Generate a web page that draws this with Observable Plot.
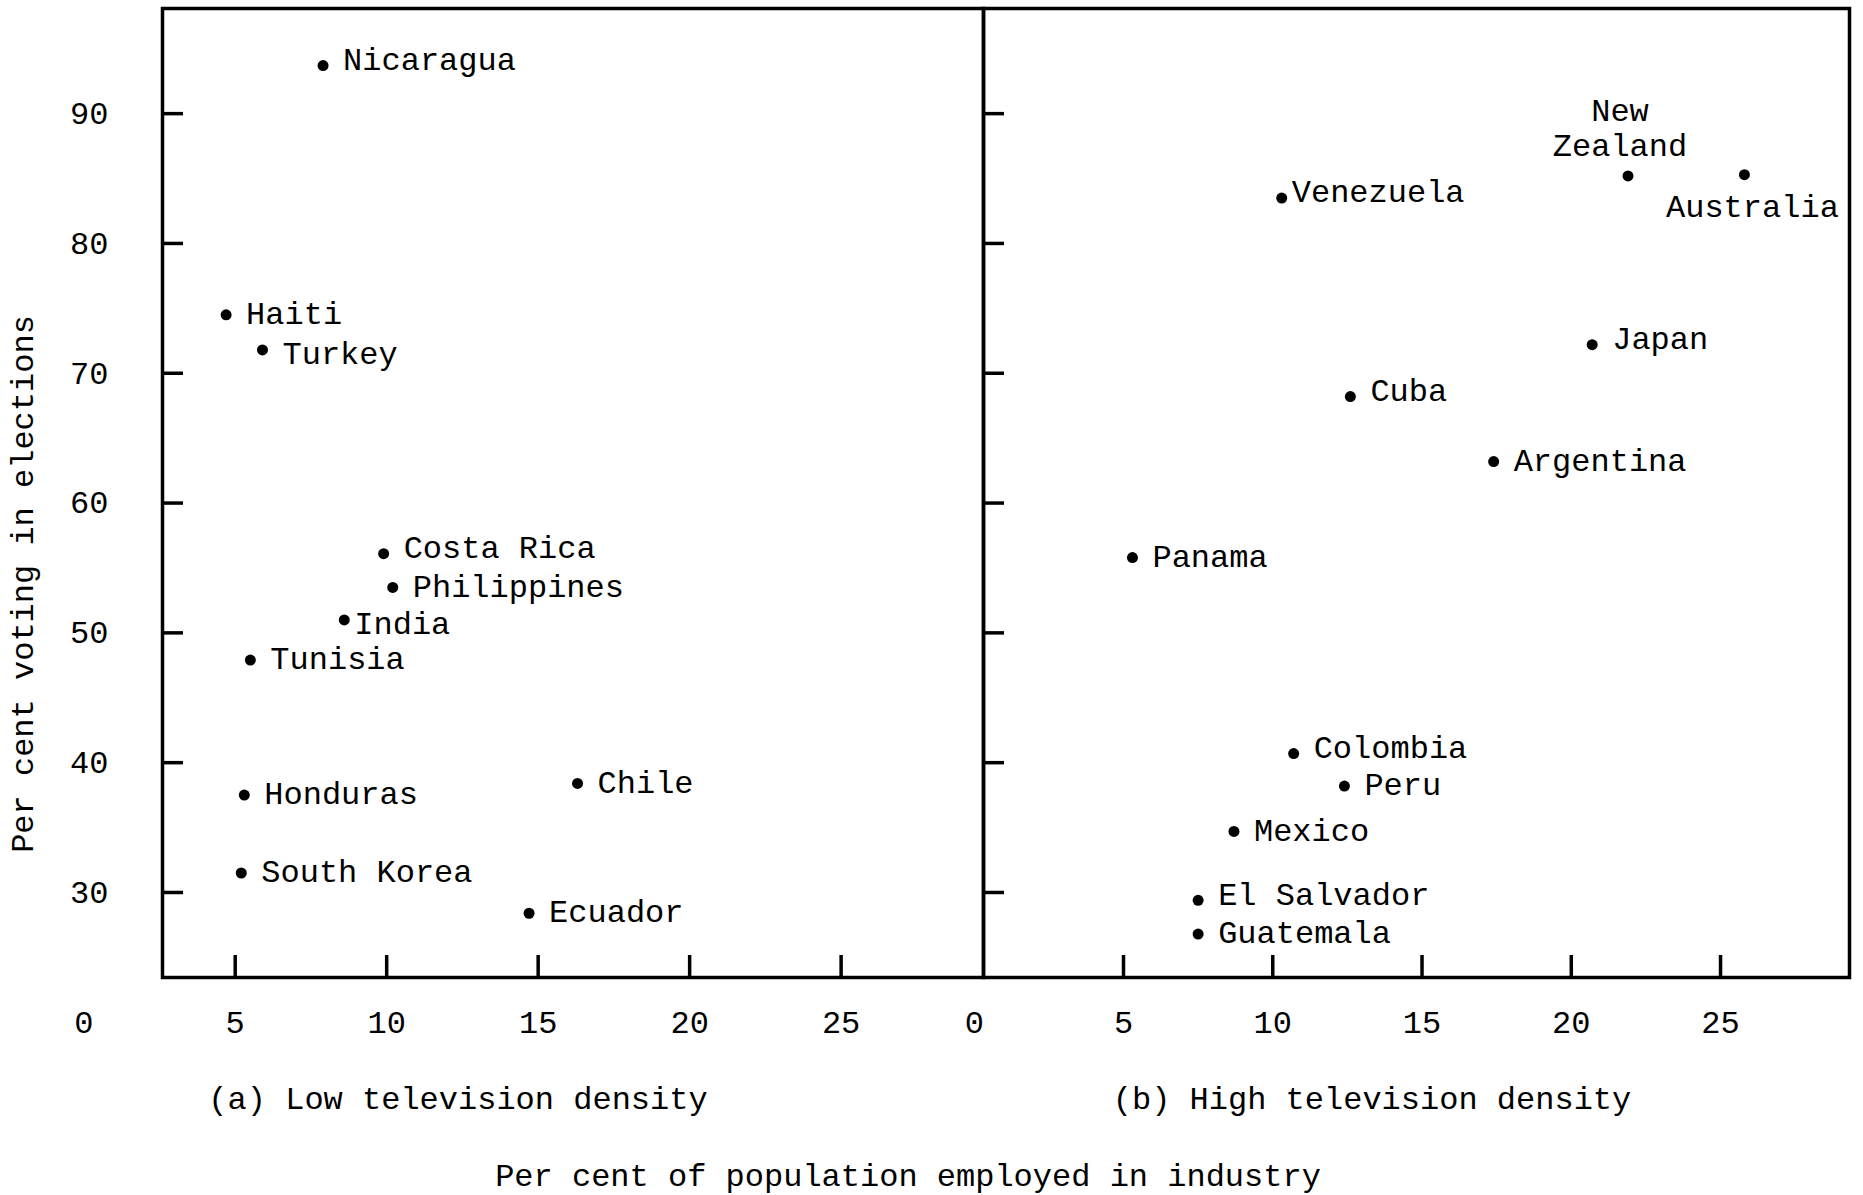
<!DOCTYPE html>
<html>
<head>
<meta charset="utf-8">
<script src="https://cdn.jsdelivr.net/npm/d3@7"></script>
<script src="https://cdn.jsdelivr.net/npm/@observablehq/plot@0.6"></script>
<style>
  html, body { margin: 0; padding: 0; background: #fff; }
  #fig { position: relative; width: 1863px; height: 1195px; background: #fff; font-family: "Liberation Mono", monospace; color: #000; overflow: hidden; }
  #left, #right { position: absolute; top: 0; }
  #left { left: 0; }
  #right { left: 983px; }
  .txt { position: absolute; white-space: nowrap; font-size: 32px; transform: translate(-50%, -50%); }
  .ytitle { transform: translate(-50%, -50%) rotate(-90deg); }
</style>
</head>
<body>
<div id="fig">
  <div id="left"></div>
  <div id="right"></div>
  <div class="txt ytitle" style="left:24px; top:584px;">Per cent voting in elections</div>
  <div class="txt" style="left:458px; top:1100px;">(a) Low television density</div>
  <div class="txt" style="left:1372px; top:1100px;">(b) High television density</div>
  <div class="txt" style="left:908px; top:1177px;">Per cent of population employed in industry</div>
</div>
<script>
// ---- data ----
const leftCountries = ["Nicaragua", "Haiti", "Turkey", "Costa Rica", "Philippines", "India", "Tunisia", "Honduras", "South Korea", "Chile", "Ecuador"];
const leftIndustry  = [7.9, 4.7, 5.9, 9.9, 10.2, 8.6, 5.5, 5.3, 5.2, 16.3, 14.7];
const leftVoting    = [93.7, 74.5, 71.8, 56.1, 53.5, 51.0, 47.9, 37.5, 31.5, 38.4, 28.4];

const rightCountries = ["New Zealand", "Australia", "Venezuela", "Japan", "Cuba", "Argentina", "Panama", "Colombia", "Peru", "Mexico", "El Salvador", "Guatemala"];
const rightIndustry  = [21.9, 25.8, 10.3, 20.7, 12.6, 17.4, 5.3, 10.7, 12.4, 8.7, 7.5, 7.5];
const rightVoting    = [85.2, 85.3, 83.5, 72.2, 68.2, 63.2, 55.8, 40.7, 38.2, 34.7, 29.4, 26.8];

const xTickLabels = [0, 5, 10, 15, 20, 25];
const xTickMarks  = [5, 10, 15, 20, 25];
const yTicks      = [30, 40, 50, 60, 70, 80, 90];

// label placement hints (names only)
const labelAbove   = ["New Zealand"];
const labelBelow   = ["Australia"];
const labelRaised  = ["Nicaragua", "Costa Rica", "Colombia", "Venezuela", "Cuba", "Japan", "El Salvador"];
const labelLowered = ["Turkey", "India"];
const labelTight   = ["Venezuela", "India"];

// ---- build tables ----
const leftData = leftCountries.map((name, i) => ({name, industry: leftIndustry[i], voting: leftVoting[i]}));
const rightData = rightCountries.map((name, i) => ({name, industry: rightIndustry[i], voting: rightVoting[i]}));

const FONT = "Liberation Mono, monospace";
const H = 1080, MT = 8, MB = 103;
const plotH = H - MT - MB;
const yDomain = [23.45, 98.1];
const STROKE = 3.5;

function build({data, width, marginLeft, marginRight, xDomain, showYLabels}) {
  const plotW = width - marginLeft - marginRight;
  const has = list => d => list.includes(d.name);
  const inline = data.filter(d => !labelAbove.includes(d.name) && !labelBelow.includes(d.name));
  const textOpts = {
    x: "industry", y: "voting", text: "name", textAnchor: "start", fontSize: 32, fontFamily: FONT, fill: "#000"
  };
  const dxOf = d => labelTight.includes(d.name) ? 10 : 20;
  const dyOf = d => labelRaised.includes(d.name) ? -6 : labelLowered.includes(d.name) ? 4 : -1;
  // group inline labels by offset so each group uses constant dx/dy
  const groups = d3.groups(inline, d => `${dxOf(d)},${dyOf(d)}`);
  const marks = [
    Plot.frame({stroke: "#000", strokeWidth: STROKE}),
    Plot.ruleX(xTickMarks, {x: d => d, insetTop: plotH - 22, stroke: "#000", strokeWidth: STROKE}),
    Plot.ruleY(yTicks, {y: d => d, insetRight: plotW - 21, stroke: "#000", strokeWidth: STROKE}),
    Plot.axisX(xTickLabels, {tickSize: 0, tickPadding: 33, fontSize: 32, fontFamily: FONT, tickFormat: d => String(d), label: null}),
    showYLabels
      ? Plot.axisY(yTicks, {anchor: "left", tickSize: 0, tickPadding: 54, fontSize: 32, fontFamily: FONT, tickFormat: d => String(d), label: null})
      : null,
    Plot.dot(data, {x: "industry", y: "voting", r: 5.5, fill: "#000", stroke: "none"}),
    ...groups.map(([, rows]) => Plot.text(rows, {...textOpts, dx: dxOf(rows[0]), dy: dyOf(rows[0])})),
    Plot.text(data.filter(has(labelAbove)), {x: "industry", y: "voting", text: d => d.name.replace(" ", "\n"), dx: -8, dy: -20, textAnchor: "middle", lineAnchor: "bottom", lineHeight: 1.08, fontSize: 32, fontFamily: FONT, fill: "#000"}),
    Plot.text(data.filter(has(labelBelow)), {x: "industry", y: "voting", text: "name", dx: 8, dy: 20, textAnchor: "middle", lineAnchor: "top", fontSize: 32, fontFamily: FONT, fill: "#000"})
  ].filter(Boolean);
  return Plot.plot({
    width, height: H,
    marginLeft, marginRight, marginTop: MT, marginBottom: MB,
    style: {background: "transparent", overflow: "visible", color: "#000", fontFamily: FONT},
    x: {domain: xDomain, axis: null},
    y: {domain: yDomain, axis: null},
    marks
  });
}

document.getElementById("left").appendChild(build({
  data: leftData, width: 985, marginLeft: 162, marginRight: 2, xDomain: [2.6, 29.7], showYLabels: true
}));
document.getElementById("right").appendChild(build({
  data: rightData, width: 880, marginLeft: 0, marginRight: 14, xDomain: [0.31, 29.32], showYLabels: false
}));
</script>
</body>
</html>
